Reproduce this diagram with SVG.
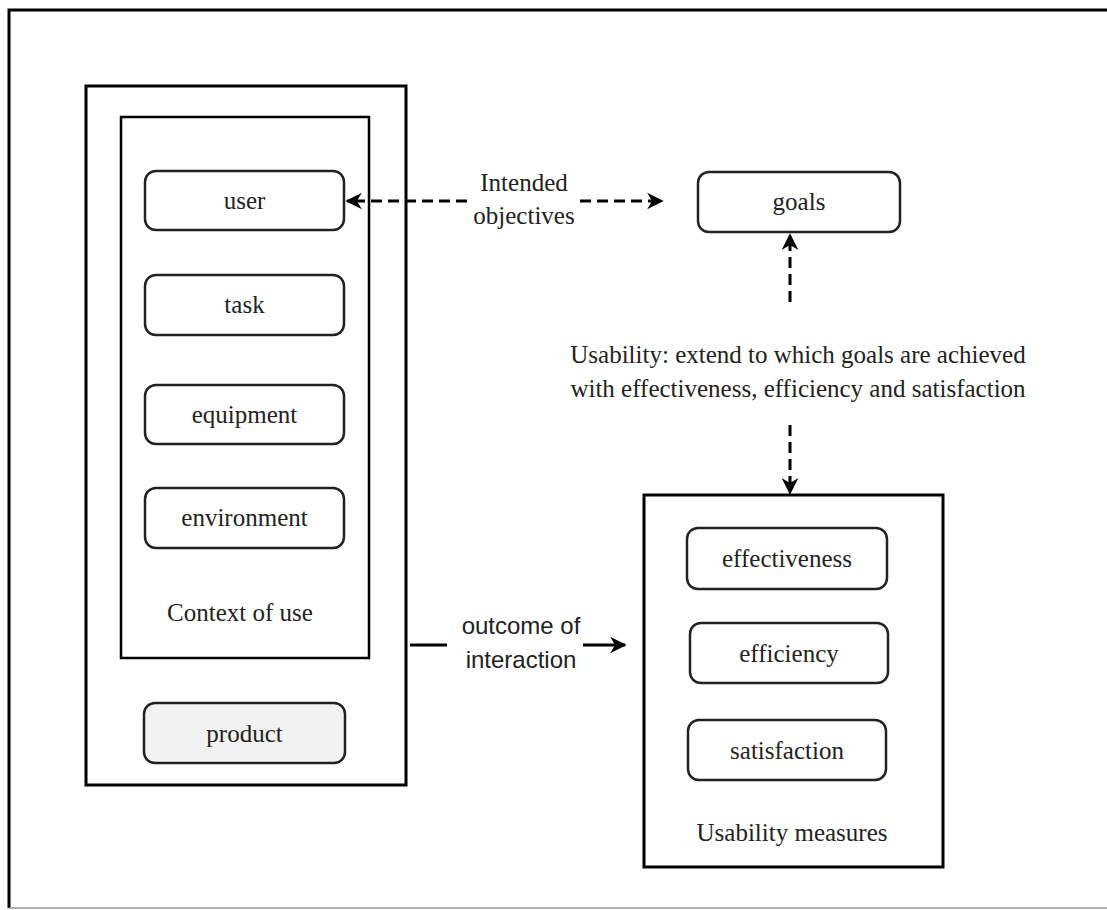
<svg xmlns="http://www.w3.org/2000/svg" width="1107" height="910" viewBox="0 0 1107 910">
<style>
.frame{fill:none;stroke:#000;stroke-width:3}
.inner{fill:none;stroke:#000;stroke-width:2.5}
.item{fill:#fff;stroke:#222;stroke-width:2.5}
.prod{fill:#f2f2f2;stroke:#222;stroke-width:2.5}
.t{font-family:"Liberation Serif","Times New Roman",serif;font-size:25px;fill:#222;text-anchor:middle}
.s{font-family:"Liberation Sans",Arial,sans-serif;font-size:24px;fill:#222;text-anchor:middle}
.dash{fill:none;stroke:#000;stroke-width:3;stroke-dasharray:11 6}
.solid{fill:none;stroke:#000;stroke-width:3}
</style>
<defs>
<marker id="ah" viewBox="0 0 10 10" refX="9" refY="5" markerWidth="5.5" markerHeight="5.5" orient="auto-start-reverse" markerUnits="strokeWidth">
<path d="M0,0 L10,5 L0,10 L3,5 Z" fill="#000"/>
</marker>
</defs>
<rect width="1107" height="910" fill="#fff"/>
<g id="page-frame">
<path d="M9,908 L9,10 L1110,10" class="frame"/>
<line x1="9" y1="908" x2="1107" y2="908" stroke="#999" stroke-width="1.5"/>
</g>
<g id="product-container">
<rect x="86" y="86" width="320" height="699" class="frame"/>
</g>
<g id="context-of-use">
<rect x="121" y="117" width="248" height="541" class="inner"/>
<text x="240" y="621" class="t">Context of use</text>
</g>
<g id="user">
<rect x="145" y="171" width="199" height="59" rx="11" class="item"/>
<text x="244.5" y="209" class="t">user</text>
</g>
<g id="task">
<rect x="145" y="275" width="199" height="60" rx="11" class="item"/>
<text x="244.5" y="313" class="t">task</text>
</g>
<g id="equipment">
<rect x="145" y="385" width="199" height="59" rx="11" class="item"/>
<text x="244.5" y="423" class="t">equipment</text>
</g>
<g id="environment">
<rect x="145" y="488" width="199" height="60" rx="11" class="item"/>
<text x="244.5" y="526" class="t">environment</text>
</g>
<g id="product">
<rect x="144" y="703" width="201" height="60" rx="11" class="prod"/>
<text x="244.5" y="742" class="t">product</text>
</g>
<g id="goals">
<rect x="698" y="172" width="202" height="60" rx="11" class="item"/>
<text x="799" y="210" class="t">goals</text>
</g>
<g id="usability-measures">
<rect x="644" y="495" width="299" height="372" class="frame"/>
<text x="792" y="841" class="t">Usability measures</text>
</g>
<g id="effectiveness">
<rect x="687" y="528" width="200" height="61" rx="11" class="item"/>
<text x="787" y="567" class="t">effectiveness</text>
</g>
<g id="efficiency">
<rect x="690" y="623" width="198" height="60" rx="11" class="item"/>
<text x="789" y="662" class="t">efficiency</text>
</g>
<g id="satisfaction">
<rect x="688" y="720" width="198" height="60" rx="11" class="item"/>
<text x="787" y="759" class="t">satisfaction</text>
</g>
<g id="connectors">
<path d="M467,201 L347,201" class="dash" marker-end="url(#ah)"/>
<path d="M580,201 L662,201" class="dash" marker-end="url(#ah)"/>
<text x="524" y="191" class="t">Intended</text>
<text x="524" y="224" class="t">objectives</text>
<path d="M790,302 L790,235" class="dash" marker-end="url(#ah)"/>
<path d="M790,425 L790,493" class="dash" marker-end="url(#ah)"/>
<text x="798" y="363" class="t">Usability: extend to which goals are achieved</text>
<text x="798" y="397" class="t">with effectiveness, efficiency and satisfaction</text>
<path d="M410,645 L447,645" class="solid"/>
<path d="M583,645 L625,645" class="solid" marker-end="url(#ah)"/>
<text x="521" y="634" class="s">outcome of</text>
<text x="521" y="668" class="s">interaction</text>
</g>
</svg>
